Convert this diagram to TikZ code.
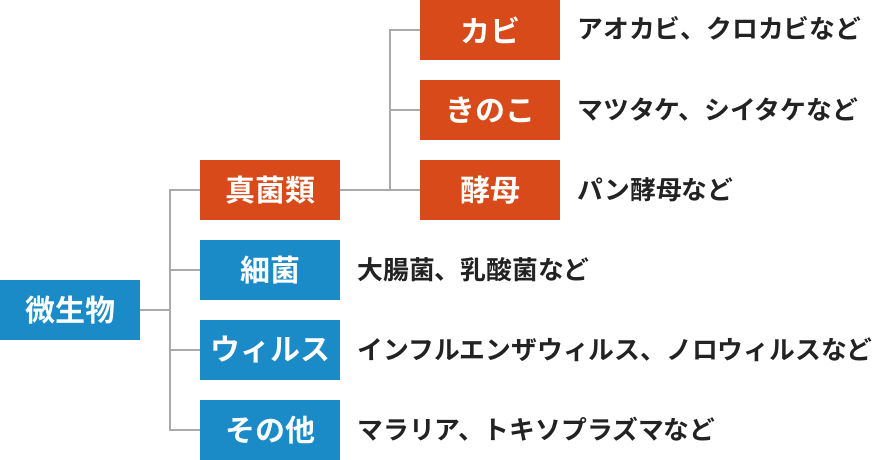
\documentclass[tikz,border=0pt]{standalone}
\usepackage{fontspec}
\newfontfamily\jpb{Noto Sans CJK JP Bold}
\definecolor{cOrange}{HTML}{D84A1A}
\definecolor{cBlue}{HTML}{1A8BC7}
\definecolor{cLine}{HTML}{AAAAAA}
\definecolor{cText}{HTML}{222222}
\tikzset{
  boxbase/.style={rectangle, minimum width=140pt, minimum height=60pt, inner sep=0pt,
    text=white, font=\jpb\fontsize{30}{30}\selectfont},
  orangebox/.style={boxbase, fill=cOrange},
  bluebox/.style={boxbase, fill=cBlue},
  desc/.style={anchor=west, inner sep=0pt, text=cText, text height=0.8em, text depth=0.2em,
    yshift=-6pt, font=\jpb\fontsize{25.8}{26}\selectfont},
  conn/.style={draw=cLine, line width=2pt}
}
\begin{document}
\begin{tikzpicture}[x=1pt,y=-1pt]
\useasboundingbox (0,0) rectangle (876,460);
\node[bluebox] (root) at (70,310) {微生物};
\node[orangebox] (fungi) at (270,190) {真菌類};
\node[bluebox] (bact) at (270,270) {細菌};
\node[bluebox] (virus) at (270,350) {ウィルス};
\node[bluebox] (other) at (270,430) {その他};
\node[orangebox] (kabi) at (490,30) {カビ};
\node[orangebox] (kinoko) at (490,110) {きのこ};
\node[orangebox] (yeast) at (490,190) {酵母};
\coordinate (j1) at (170,310);
\coordinate (j2) at (390,190);
\draw[conn] (root.east) -- (j1);
\draw[conn] (j1) |- (fungi.west);
\draw[conn] (j1) |- (bact.west);
\draw[conn] (j1) |- (virus.west);
\draw[conn] (j1) |- (other.west);
\draw[conn] (fungi.east) -- (j2) -- (yeast.west);
\draw[conn] (j2) |- (kabi.west);
\draw[conn] (j2) |- (kinoko.west);
\node[desc] (dkabi) at ([xshift=17pt]kabi.east) {アオカビ、クロカビなど};
\node[desc] (dkinoko) at ([xshift=17pt]kinoko.east) {マツタケ、シイタケなど};
\node[desc] (dyeast) at ([xshift=17pt]yeast.east) {パン酵母など};
\node[desc] (dbact) at ([xshift=17pt]bact.east) {大腸菌、乳酸菌など};
\node[desc] (dvirus) at ([xshift=17pt]virus.east) {インフルエンザウィルス、ノロウィルスなど};
\node[desc] (dother) at ([xshift=17pt]other.east) {マラリア、トキソプラズマなど};
\end{tikzpicture}
\end{document}
